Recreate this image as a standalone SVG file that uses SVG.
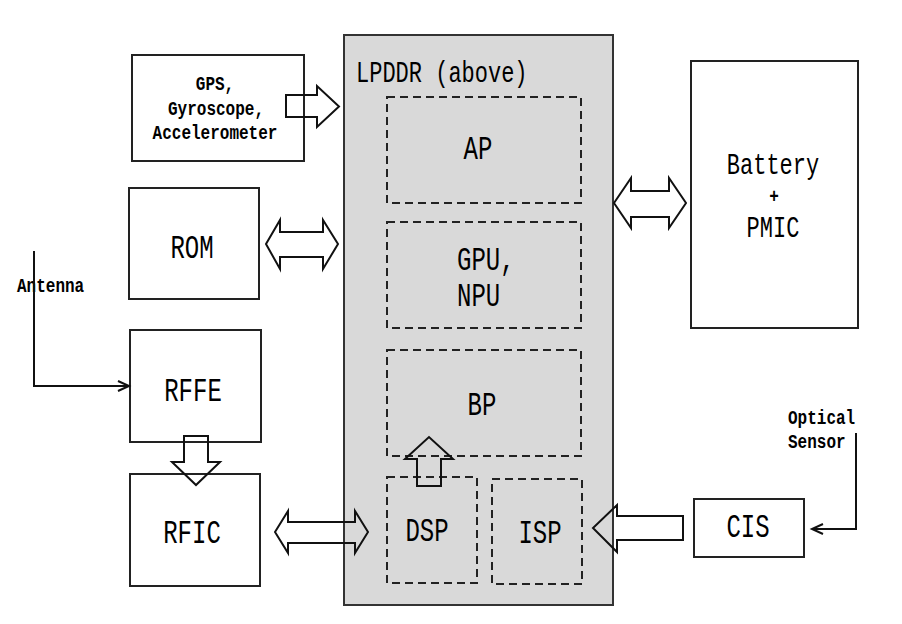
<svg xmlns="http://www.w3.org/2000/svg" width="902" height="624" viewBox="0 0 902 624">
<style>
.box{fill:#fff;stroke:#222;stroke-width:2}
.main{fill:#d9d9d9;stroke:#333;stroke-width:2}
.dash{fill:none;stroke:#222;stroke-width:2;stroke-dasharray:8 5}
.arr{fill:none;stroke:#111;stroke-width:2;stroke-linejoin:miter}
.ln{fill:none;stroke:#111;stroke-width:2}
.big{font-family:"Liberation Mono","DejaVu Sans Mono",monospace;font-size:24px;fill:#000;text-anchor:middle}
.med{font-family:"Liberation Mono","DejaVu Sans Mono",monospace;font-size:22px;fill:#000;text-anchor:middle}
.sm{font-family:"Liberation Mono","DejaVu Sans Mono",monospace;font-size:16px;font-weight:bold;fill:#000;text-anchor:middle}
.st{text-anchor:start}
</style>
<rect width="902" height="624" fill="#fff"/>

<g id="lpddr">
<rect class="main" x="344" y="35" width="269" height="570"/>
<text class="med st" transform="translate(356,82) scale(1,1.33)">LPDDR (above)</text>
</g>
<g id="ap">
<rect class="dash" x="387" y="97" width="194" height="106"/>
<text class="big" transform="translate(478,159) scale(1,1.38)">AP</text>
</g>
<g id="gpu">
<rect class="dash" x="387" y="222" width="194" height="106"/>
<text class="big st" transform="translate(457,270) scale(1,1.38)">GPU,</text>
<text class="big st" transform="translate(457,306) scale(1,1.38)">NPU</text>
</g>
<g id="bp">
<rect class="dash" x="387" y="350" width="194" height="106"/>
<text class="big" transform="translate(482,415) scale(1,1.38)">BP</text>
</g>
<g id="dsp">
<rect class="dash" x="387" y="477" width="90" height="106"/>
<text class="big" transform="translate(427,541) scale(1,1.38)">DSP</text>
</g>
<g id="isp">
<rect class="dash" x="492" y="479" width="90" height="105"/>
<text class="big" transform="translate(540,543) scale(1,1.38)">ISP</text>
</g>

<g id="gps">
<rect class="box" x="132" y="55" width="172" height="106"/>
<text class="sm" transform="translate(215,90) scale(1,1.25)">GPS,</text>
<text class="sm" transform="translate(216,115) scale(1,1.25)">Gyroscope,</text>
<text class="sm" transform="translate(215,139) scale(1,1.25)">Accelerometer</text>
</g>
<g id="rom">
<rect class="box" x="129" y="188" width="130" height="111"/>
<text class="big" transform="translate(192,258) scale(1,1.38)">ROM</text>
</g>
<g id="rffe">
<rect class="box" x="130" y="330" width="131" height="112"/>
<text class="big" transform="translate(193,401) scale(1,1.38)">RFFE</text>
</g>
<g id="rfic">
<rect class="box" x="130" y="474" width="130" height="112"/>
<text class="big" transform="translate(192,543) scale(1,1.38)">RFIC</text>
</g>
<g id="battery">
<rect class="box" x="691" y="61" width="167" height="267"/>
<text class="med" transform="translate(773,174) scale(1,1.33)">Battery</text>
<text class="sm" transform="translate(774,203) scale(1,1.25)">+</text>
<text class="med" transform="translate(773,237) scale(1,1.33)">PMIC</text>
</g>
<g id="cis">
<rect class="box" x="694" y="499" width="110" height="58"/>
<text class="big" transform="translate(748,537) scale(1,1.38)">CIS</text>
</g>
<g id="antenna">
<text class="sm st" transform="translate(17,292) scale(1,1.25)">Antenna</text>
</g>
<g id="optical">
<text class="sm st" transform="translate(788,424) scale(1,1.25)">Optical</text>
<text class="sm st" transform="translate(788,448) scale(1,1.25)">Sensor</text>
</g>

<g id="connectors">
<path class="arr" d="M286,95 H317 V86 L339,106.5 L317,127 V117 H286 Z"/>
<path class="arr" d="M266,244 L280,220 V232 H323 V220 L338,244 L323,269 V257 H280 V269 Z"/>
<path class="arr" d="M275,532 L288,511 V522 H355 V511 L368,532 L355,553 V543 H288 V553 Z"/>
<path class="arr" d="M614,203 L631,178 V191 H669 V178 L686,203 L669,228 V217 H631 V228 Z"/>
<path class="arr" d="M184,436 H208 V462 H220 L196,485 L172,462 H184 Z"/>
<path class="arr" d="M417,486 V459 H405 L429,437 L453,459 H441 V486 Z"/>
<path class="arr" d="M683,516 V540 H617 V552 L593,528 L617,505 V516 Z"/>
<path class="ln" d="M34,251 V386 H128"/>
<path class="ln" d="M118,381 L129,386 L118,391"/>
<path class="ln" d="M856,433 V529 H813"/>
<path class="ln" d="M823,524 L812,529 L823,534"/>
</g>
</svg>
